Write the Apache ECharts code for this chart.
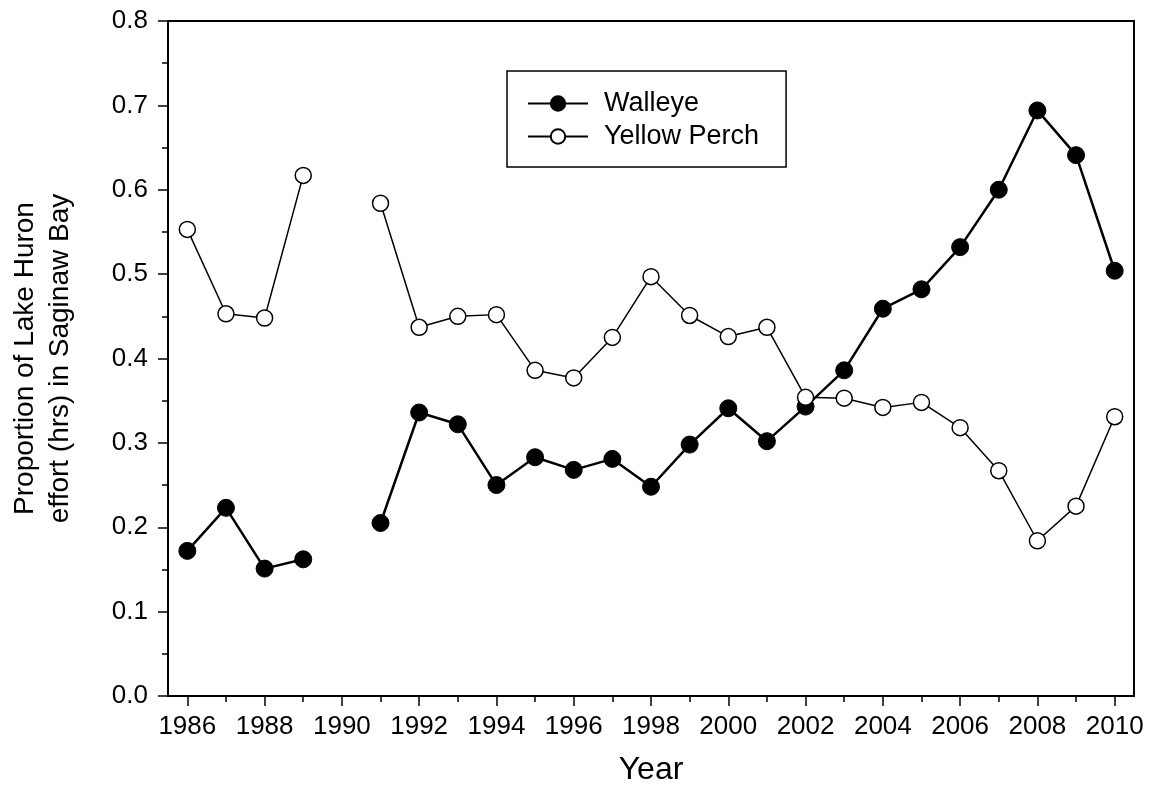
<!DOCTYPE html>
<html>
<head>
<meta charset="utf-8">
<script src="https://cdn.jsdelivr.net/npm/echarts@6/dist/echarts.min.js"></script>
<style>html,body{margin:0;padding:0;background:#fff}#c{width:1153px;height:791px}</style>
</head>
<body>
<div id="c"></div>
<script>
const years = [1986,1987,1988,1989,1990,1991,1992,1993,1994,1995,1996,1997,1998,1999,2000,2001,2002,2003,2004,2005,2006,2007,2008,2009,2010];
const walleye = [0.172,0.223,0.151,0.162,null,0.205,0.336,0.322,0.250,0.283,0.268,0.281,0.248,0.298,0.341,0.302,0.343,0.386,0.459,0.482,0.532,0.600,0.694,0.641,0.504];
const yellowPerch = [0.553,0.453,0.448,0.617,null,0.584,0.437,0.450,0.452,0.386,0.377,0.425,0.497,0.451,0.426,0.437,0.354,0.353,0.342,0.348,0.318,0.267,0.184,0.225,0.331];
const majorYears = [1986,1988,1990,1992,1994,1996,1998,2000,2002,2004,2006,2008,2010];
const minorYears = [1987,1989,1991,1993,1995,1997,1999,2001,2003,2005,2007,2009];

const FONT = 'Liberation Sans, Arial, sans-serif';
const chart = echarts.init(document.getElementById('c'));
const pair = arr => years.map((y,i) => [y, arr[i]]);

chart.setOption({
  backgroundColor: '#fff',
  animation: false,
  grid: {left: 168, top: 21, right: 19, bottom: 95, show: true, borderColor: '#000', borderWidth: 2, backgroundColor: 'transparent'},
  legend: {
    left: 507, top: 71, orient: 'vertical',
    itemWidth: 60, itemHeight: 18, itemGap: 6,
    padding: [19, 27, 17, 20],
    borderColor: '#000', borderWidth: 1.5,
    textStyle: {fontFamily: FONT, fontSize: 27, color: '#000', padding: [0,0,0,11]},
    data: ['Walleye', 'Yellow Perch']
  },
  xAxis: [{
    type: 'value', min: 1985.5, max: 2010.5,
    name: 'Year', nameLocation: 'middle', nameGap: 58,
    nameTextStyle: {fontFamily: FONT, fontSize: 32, color: '#000'},
    axisLine: {show: true, onZero: false, lineStyle: {color: '#000', width: 2}},
    axisTick: {show: true, customValues: majorYears, length: 10, lineStyle: {color: '#000', width: 1.5}},
    axisLabel: {customValues: majorYears, formatter: v => String(v), fontFamily: FONT, fontSize: 26, color: '#000', margin: 18},
    splitLine: {show: false}
  }, {
    type: 'value', min: 1985.5, max: 2010.5, position: 'bottom',
    axisLine: {show: false},
    axisTick: {show: true, customValues: minorYears, length: 6, lineStyle: {color: '#000', width: 1.5}},
    axisLabel: {show: false},
    splitLine: {show: false}
  }],
  yAxis: {
    type: 'value', min: 0, max: 0.8, interval: 0.1,
    name: 'Proportion of Lake Huron\neffort (hrs) in Saginaw Bay', nameLocation: 'middle', nameGap: 90,
    nameTextStyle: {fontFamily: FONT, fontSize: 28, color: '#000', lineHeight: 35},
    axisLine: {show: true, lineStyle: {color: '#000', width: 2}},
    axisTick: {show: true, length: 10, lineStyle: {color: '#000', width: 1.5}},
    minorTick: {show: true, splitNumber: 2, length: 6, lineStyle: {color: '#000', width: 1.5}},
    axisLabel: {formatter: v => v.toFixed(1), fontFamily: FONT, fontSize: 26, color: '#000', margin: 20},
    splitLine: {show: false}
  },
  series: [{
    name: 'Walleye', type: 'line', data: pair(walleye), connectNulls: false,
    symbol: 'circle', symbolSize: 17,
    lineStyle: {color: '#000', width: 2.5},
    itemStyle: {color: '#000', borderColor: '#000', borderWidth: 1},
    z: 3
  }, {
    name: 'Yellow Perch', type: 'line', data: pair(yellowPerch), connectNulls: false,
    symbol: 'circle', symbolSize: 16,
    lineStyle: {color: '#000', width: 1.5},
    itemStyle: {color: '#fff', borderColor: '#000', borderWidth: 1.5},
    z: 4
  }]
});
</script>
</body>
</html>
